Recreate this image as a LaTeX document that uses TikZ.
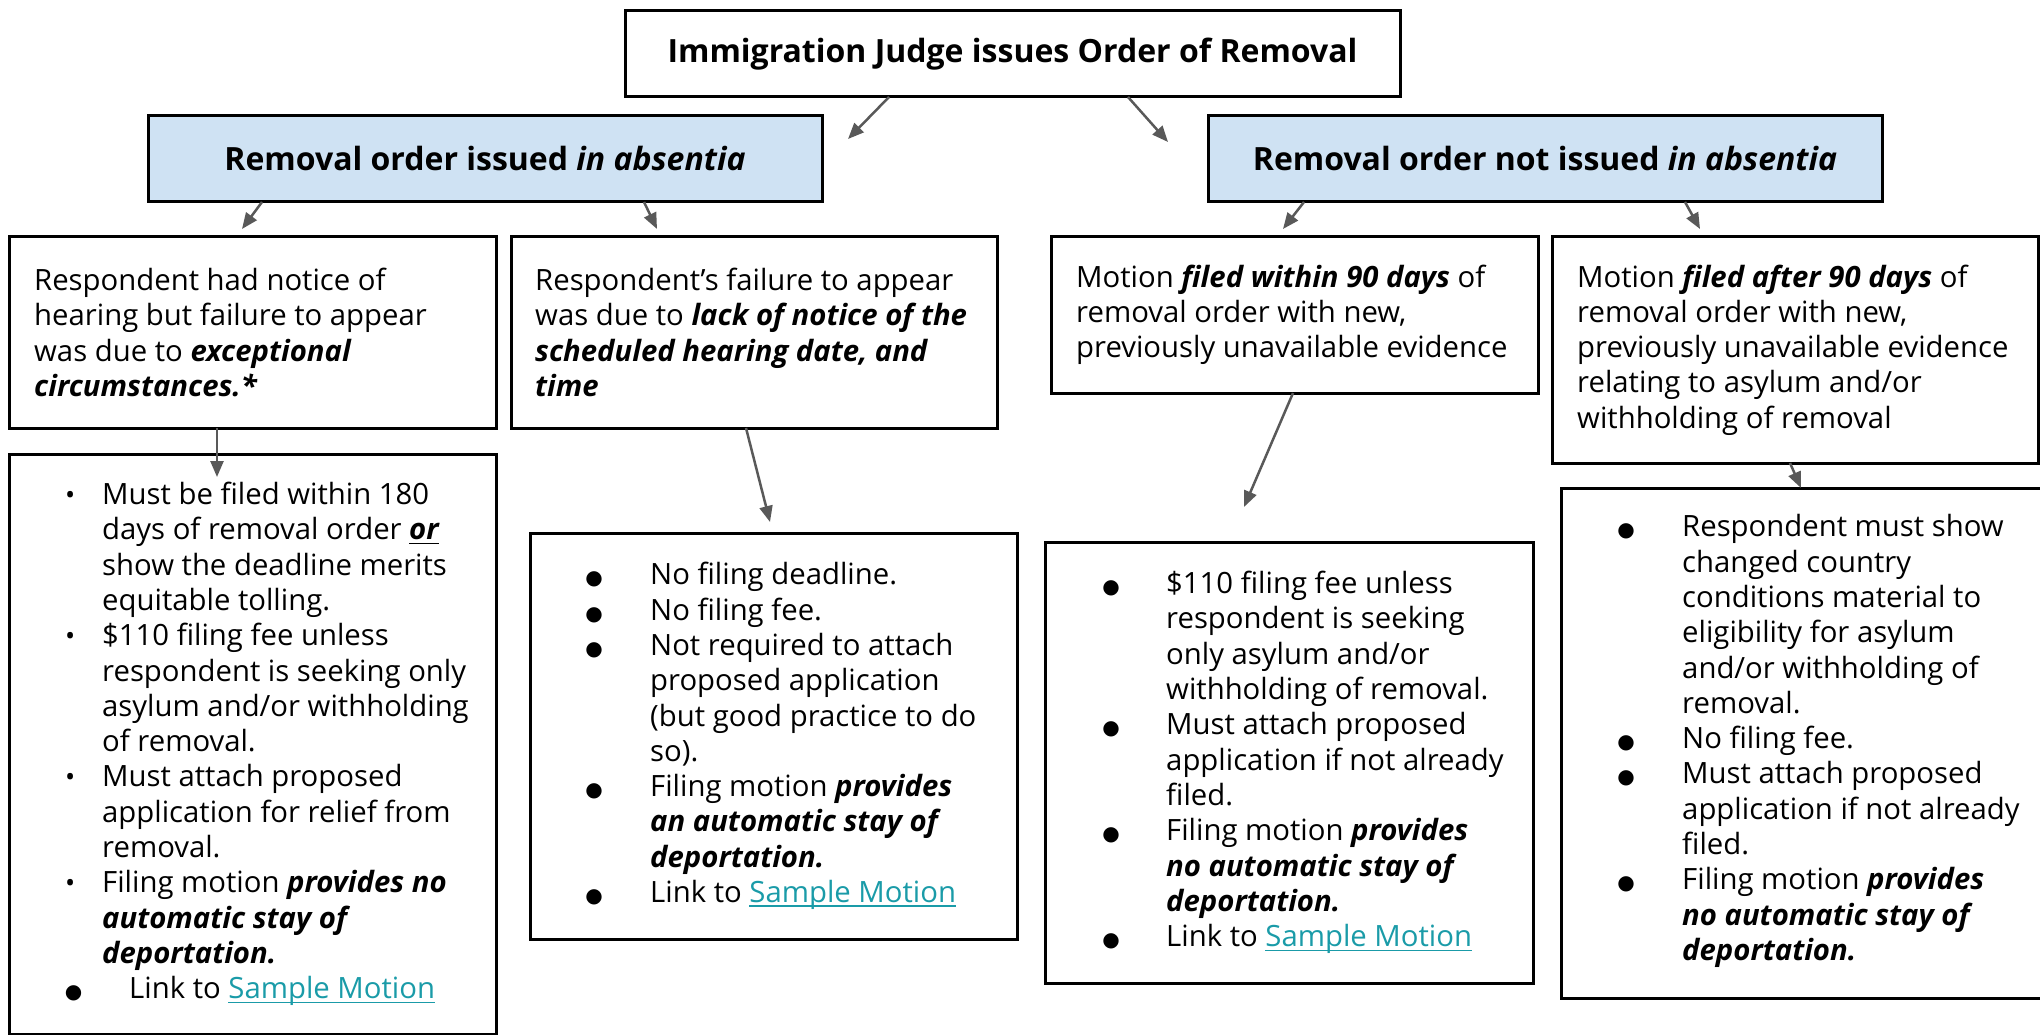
\documentclass[tikz,border=0pt]{standalone}
\usepackage{fontspec}
\setmainfont{Open Sans}
\newfontfamily\dejavu{DejaVu Sans}
\usetikzlibrary{arrows.meta,calc}
\definecolor{boxblue}{HTML}{CFE2F3}
\definecolor{arrowgray}{HTML}{595959}
\definecolor{linkteal}{HTML}{1A9BA8}
\newsavebox{\ulbox}
\newcommand{\myul}[1]{\sbox{\ulbox}{#1}\rlap{\rule[-4.5pt]{\wd\ulbox}{1.6pt}}\usebox{\ulbox}}
\newcommand{\bi}[1]{\textbf{\textit{#1}}}
\newcommand{\slink}{\textcolor{linkteal}{\myul{Sample Motion}}}
\newcommand{\bul}[2]{\makebox[#1][l]{\makebox[0pt][c]{#2}}}
\newcommand{\cont}[1]{\hspace*{#1}}
\newcommand{\bigdot}{{\dejavu\fontsize{20}{20}\selectfont ●}}
\newcommand{\smalldot}{{\fontsize{27}{27}\selectfont •}}
\begin{document}
\begin{tikzpicture}[x=1pt,y=-1pt,
  box/.style={draw=black, line width=3pt, rectangle, anchor=north west, outer sep=0pt, inner sep=0pt},
  hdr/.style={box, fill=boxblue, font=\fontsize{32}{38}\selectfont\bfseries},
  txt/.style={anchor=west, align=left, inner sep=0pt, font=\fontsize{29.3}{35.3}\selectfont},
  conn/.style={draw=arrowgray, line width=2.5pt, -{Triangle[length=16pt,width=13pt]}}]
\useasboundingbox (0,0) rectangle (2040,1035);

% boxes
\node[box, font=\fontsize{32}{38}\selectfont\bfseries, minimum width=775pt, minimum height=86pt] (T) at (625,11) {Immigration Judge issues Order of Removal};
\node[hdr, minimum width=674pt, minimum height=86pt] (L) at (148,116) {Removal order issued \textit{in absentia}};
\node[hdr, minimum width=674pt, minimum height=86pt] (R) at (1208,116) {Removal order not issued \textit{in absentia}};

\node[box, minimum width=487pt, minimum height=191pt] (A) at (9,237) {};
\node[box, minimum width=486pt, minimum height=191pt] (B) at (511,237) {};
\node[box, minimum width=487pt, minimum height=156pt] (C) at (1051,237) {};
\node[box, minimum width=486pt, minimum height=226pt] (D) at (1552,237) {};

\node[box, minimum width=487pt, minimum height=580pt] (E) at (9,454) {};
\node[box, minimum width=487pt, minimum height=406pt] (F) at (530,533) {};
\node[box, minimum width=488pt, minimum height=441pt] (G) at (1045,542) {};
\node[box, minimum width=520pt, minimum height=510pt] (H) at (1561,488) {};

% texts
\node[txt] (At) at ($(A.west)+(25,0)$) {Respondent had notice of\\hearing but failure to appear\\was due to \bi{exceptional}\\\bi{circumstances.*}};
\node[txt] (Bt) at ($(B.west)+(24,0)$) {Respondent’s failure to appear\\was due to \bi{lack of notice of the}\\\bi{scheduled hearing date, and}\\\bi{time}};
\node[txt] (Ct) at ($(C.west)+(25,0)$) {Motion \bi{filed within 90 days} of\\removal order with new,\\previously unavailable evidence};
\node[txt] (Dt) at ($(D.west)+(25,0)$) {Motion \bi{filed after 90 days} of\\removal order with new,\\previously unavailable evidence\\relating to asylum and/or\\withholding of removal};

\node[txt] (Et) at ($(E.west)+(61,0)$) {%
\bul{32pt}{\smalldot}Must be filed within 180\\
\cont{32pt}days of removal order \bi{\myul{or}}\\
\cont{32pt}show the deadline merits\\
\cont{32pt}equitable tolling.\\
\bul{32pt}{\smalldot}\$110 filing fee unless\\
\cont{32pt}respondent is seeking only\\
\cont{32pt}asylum and/or withholding\\
\cont{32pt}of removal.\\
\bul{32pt}{\smalldot}Must attach proposed\\
\cont{32pt}application for relief from\\
\cont{32pt}removal.\\
\bul{32pt}{\smalldot}Filing motion \bi{provides no}\\
\cont{32pt}\bi{automatic stay of}\\
\cont{32pt}\bi{deportation.}\\
\hspace*{3.5pt}\bul{55.5pt}{\bigdot}Link to \slink};

\node[txt] (Ft) at ($(F.west)+(64,0)$) {%
\bul{56pt}{\bigdot}No filing deadline.\\
\bul{56pt}{\bigdot}No filing fee.\\
\bul{56pt}{\bigdot}Not required to attach\\
\cont{56pt}proposed application\\
\cont{56pt}(but good practice to do\\
\cont{56pt}so).\\
\bul{56pt}{\bigdot}Filing motion \bi{provides}\\
\cont{56pt}\bi{an automatic stay of}\\
\cont{56pt}\bi{deportation.}\\
\bul{56pt}{\bigdot}Link to \slink};

\node[txt] (Gt) at ($(G.west)+(66,0)$) {%
\bul{55pt}{\bigdot}\$110 filing fee unless\\
\cont{55pt}respondent is seeking\\
\cont{55pt}only asylum and/or\\
\cont{55pt}withholding of removal.\\
\bul{55pt}{\bigdot}Must attach proposed\\
\cont{55pt}application if not already\\
\cont{55pt}filed.\\
\bul{55pt}{\bigdot}Filing motion \bi{provides}\\
\cont{55pt}\bi{no automatic stay of}\\
\cont{55pt}\bi{deportation.}\\
\bul{55pt}{\bigdot}Link to \slink};

\node[txt] (Ht) at ($(H.west)+(65,-2)$) {%
\bul{56pt}{\bigdot}Respondent must show\\
\cont{56pt}changed country\\
\cont{56pt}conditions material to\\
\cont{56pt}eligibility for asylum\\
\cont{56pt}and/or withholding of\\
\cont{56pt}removal.\\
\bul{56pt}{\bigdot}No filing fee.\\
\bul{56pt}{\bigdot}Must attach proposed\\
\cont{56pt}application if not already\\
\cont{56pt}filed.\\
\bul{56pt}{\bigdot}Filing motion \bi{provides}\\
\cont{56pt}\bi{no automatic stay of}\\
\cont{56pt}\bi{deportation.}};

% free arrow ends
\coordinate (eL) at (848,139);
\coordinate (eR) at (1168,142);
\coordinate (eA) at (242,229);
\coordinate (eB) at (657,229);
\coordinate (eC) at (1283,229);
\coordinate (eD) at (1700,229);
\coordinate (eE) at (217,477);
\coordinate (eF) at (770,522);
\coordinate (eG) at (1244,507);
\coordinate (eH) at (1801,488);

% connectors
\draw[conn] ($(T.south west)+(264,0)$) -- (eL);
\draw[conn] ($(T.south west)+(503,0)$) -- (eR);
\draw[conn] ($(L.south west)+(114,0)$) -- (eA);
\draw[conn] ($(L.south west)+(496,0)$) -- (eB);
\draw[conn] ($(R.south west)+(96,0)$) -- (eC);
\draw[conn] ($(R.south west)+(477,0)$) -- (eD);
\draw[conn] ($(A.south west)+(208,0)$) -- (eE);
\draw[conn] ($(B.south west)+(235,0)$) -- (eF);
\draw[conn] ($(C.south west)+(242,0)$) -- (eG);
\draw[conn] ($(D.south west)+(238,0)$) -- (eH);
\end{tikzpicture}
\end{document}
